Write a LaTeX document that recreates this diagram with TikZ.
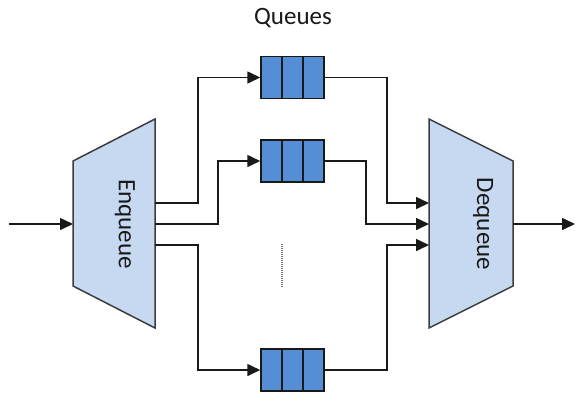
\documentclass[tikz,border=0pt]{standalone}
\usepackage{fontspec}
\setmainfont{Carlito}
\usetikzlibrary{arrows.meta,calc}
\definecolor{qfill}{RGB}{85,142,213}
\definecolor{tfill}{RGB}{198,217,241}
\definecolor{edgec}{RGB}{60,60,60}
\definecolor{linec}{RGB}{25,25,25}
\begin{document}
\begin{tikzpicture}[x=1pt,y=-1pt,
  conn/.style={line width=1.6pt, draw=linec},
  arr/.style={conn,-{Triangle[length=13pt,width=12pt]}},
  trap/.style={draw=edgec, fill=tfill, line width=1.5pt},
  queue/.style={draw=linec, fill=qfill, line width=1.5pt, minimum width=63pt, minimum height=42pt, inner sep=0pt},
  lbl/.style={font=\fontsize{25}{30}\selectfont, text=linec, inner sep=0pt}
]
\useasboundingbox (0,0) rectangle (580,400);

% trapezoids
\draw[trap] (73,161) -- (155,119) -- (155,328) -- (73,286) -- cycle;
\draw[trap] (429,119) -- (513,161) -- (513,286) -- (429,328) -- cycle;

% ports
\coordinate (src) at (9,224);
\coordinate (enqIn) at (73,224);
\coordinate (enqO1) at (155,203);
\coordinate (enqO2) at (155,224);
\coordinate (enqO3) at (155,245);
\coordinate (deqI1) at (429,203);
\coordinate (deqI2) at (429,224);
\coordinate (deqI3) at (429,245);
\coordinate (deqOut) at (513,224);
\coordinate (sink) at (575,224);

% labels
\node[lbl, rotate=-90] (enqL) at (125,224) {Enqueue};
\node[lbl, rotate=-90] (deqL) at (483,224) {Dequeue};
\node[lbl] (qL) at (293,18) {Queues};

% queues
\node[queue] (q1) at (292.5,77.5) {};
\node[queue] (q2) at (292.5,161) {};
\node[queue] (q3) at (292.5,370) {};
\foreach \q in {q1,q2,q3}{
  \draw[conn] ($(\q.north west)!1/3!(\q.north east)$) -- ($(\q.south west)!1/3!(\q.south east)$);
  \draw[conn] ($(\q.north west)!2/3!(\q.north east)$) -- ($(\q.south west)!2/3!(\q.south east)$);
}

% dots
\coordinate (dotA) at (282,244);
\coordinate (dotB) at (282,288);
\draw[draw=gray!90!black, line width=1.3pt, dash pattern=on 1pt off 1pt] (dotA) -- (dotB);

% connectors
\draw[arr] (src) -- (enqIn);
\draw[arr] (enqO1) -| ([xshift=-62pt]q1.west) -- (q1.west);
\draw[arr] (enqO2) -| ([xshift=-42pt]q2.west) -- (q2.west);
\draw[arr] (enqO3) -| ([xshift=-62pt]q3.west) -- (q3.west);
\draw[arr] (q1.east) -| ([xshift=-42pt]deqI1) -- (deqI1);
\draw[arr] (q2.east) -| ([xshift=-63pt]deqI2) -- (deqI2);
\draw[arr] (q3.east) -| ([xshift=-42pt]deqI3) -- (deqI3);
\draw[arr] (deqOut) -- (sink);
\end{tikzpicture}
\end{document}
